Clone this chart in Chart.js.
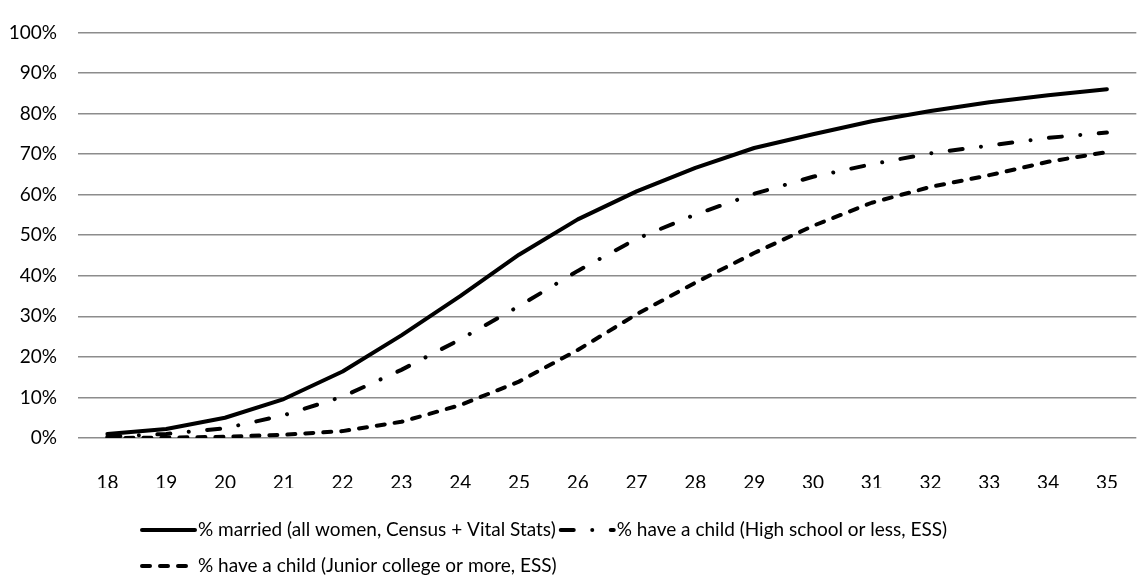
<!DOCTYPE html>
<html>
<head>
<meta charset="utf-8">
<script src="https://cdn.jsdelivr.net/npm/chart.js@4.4.1/dist/chart.umd.min.js"></script>
<style>
  html, body { margin: 0; background: #fff; }
  #wrap { width: 1143px; height: 588px; }
</style>
</head>
<body>
<div id="wrap"><canvas id="chart"></canvas></div>
<script>
// ages on the x axis
const ages = ['18', '19', '20', '21', '22', '23', '24', '25', '26', '27', '28', '29', '30', '31', '32', '33', '34', '35'];

// % married (all women, Census + Vital Stats)
const marriedAll = [1.0, 2.2, 5.0, 9.6, 16.4, 25.3, 35.0, 45.2, 53.9, 60.8, 66.6, 71.5, 74.9, 78.1, 80.6, 82.8, 84.5, 86.0];
// % have a child (High school or less, ESS)
const childHighSchool = [0.3, 1.0, 2.4, 5.6, 10.2, 16.8, 24.3, 32.5, 41.2, 49.1, 55.1, 60.2, 64.4, 67.5, 70.2, 72.1, 74.0, 75.3];
// % have a child (Junior college or more, ESS)
const childJuniorCollege = [0.0, 0.1, 0.3, 0.8, 1.7, 4.0, 8.1, 13.9, 21.7, 30.5, 38.3, 45.6, 52.3, 58.0, 61.9, 64.8, 68.1, 70.5];

const yMin = 0, yMax = 100, yStep = 10;

const FONT = 'Lato';
const FONT_SIZE = 19;

// legend drawn under the plot, two rows like the original
const bottomLegend = {
  id: 'bottomLegend',
  afterDraw(chart) {
    const ctx = chart.ctx;
    const ds = chart.data.datasets;
    const rows = [[0, 1], [2]];
    ctx.save();
    ctx.font = FONT_SIZE + 'px ' + FONT;
    ctx.textBaseline = 'middle';
    rows.forEach((row, r) => {
      let x = 140;
      const y = 530 + r * 36;
      row.forEach(i => {
        ctx.beginPath();
        ctx.setLineDash(ds[i].borderDash || []);
        ctx.lineWidth = 4;
        ctx.lineCap = 'round';
        ctx.strokeStyle = '#000';
        ctx.moveTo(x + 2, y);
        ctx.lineTo(x + 55, y);
        ctx.stroke();
        ctx.setLineDash([]);
        ctx.fillStyle = '#000';
        ctx.fillText(ds[i].label, x + 58, y);
        x += 58 + ctx.measureText(ds[i].label).width + 3;
      });
    });
    ctx.restore();
  }
};

const lineStyle = {
  borderColor: '#000',
  borderWidth: 4,
  borderCapStyle: 'round',
  borderJoinStyle: 'round',
  pointRadius: 0,
  pointHoverRadius: 0,
  tension: 0,
  fill: false
};

new Chart(document.getElementById('chart'), {
  type: 'line',
  data: {
    labels: ages,
    datasets: [
      Object.assign({ label: '% married (all women, Census + Vital Stats)', data: marriedAll, borderDash: [] }, lineStyle),
      Object.assign({ label: '% have a child (High school or less, ESS)', data: childHighSchool, borderDash: [13, 18.5, 0.01, 18.5] }, lineStyle),
      Object.assign({ label: '% have a child (Junior college or more, ESS)', data: childJuniorCollege, borderDash: [8, 10] }, lineStyle)
    ]
  },
  options: {
    responsive: true,
    maintainAspectRatio: false,
    animation: false,
    layout: { padding: { top: 18, right: 2, bottom: 100, left: 0 } },
    plugins: {
      legend: { display: false },
      tooltip: { enabled: false }
    },
    scales: {
      x: {
        offset: true,
        grid: { display: false },
        border: { display: false },
        ticks: { color: '#000', font: { family: FONT, size: FONT_SIZE }, padding: 25, maxRotation: 0 },
        afterFit(scale) { scale.height = 50; }
      },
      y: {
        min: yMin,
        max: yMax,
        border: { display: false },
        grid: { color: '#8c8c8c', lineWidth: 1.5, drawTicks: false },
        ticks: {
          stepSize: yStep,
          color: '#000',
          padding: 21,
          font: { family: FONT, size: FONT_SIZE },
          callback: v => v + '%'
        },
        afterFit(scale) { scale.width = 78; }
      }
    }
  },
  plugins: [bottomLegend]
});
</script>
</body>
</html>
